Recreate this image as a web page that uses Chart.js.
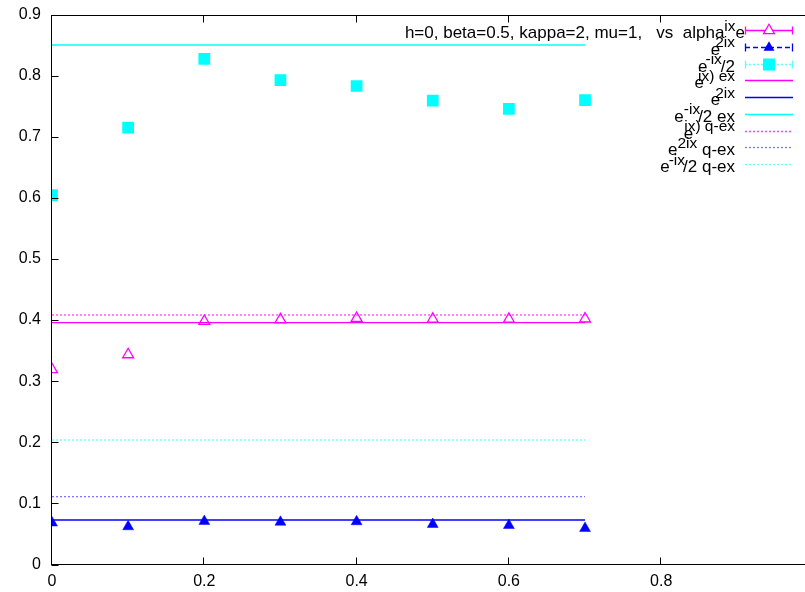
<!DOCTYPE html>
<html>
<head>
<meta charset="utf-8">
<script src="https://cdn.jsdelivr.net/npm/chart.js@4/dist/chart.umd.min.js"></script>
<style>
  html, body { margin: 0; padding: 0; background: #fff; overflow: hidden; }
  canvas { display: block; }
</style>
</head>
<body>
<canvas id="c" width="814" height="592"></canvas>
<script>
// ---- data ----
const alphaValues     = [0, 0.1, 0.2, 0.3, 0.4, 0.5, 0.6, 0.7];
const simExpIx        = [0.319, 0.3435, 0.398, 0.4007, 0.4029, 0.4016, 0.4016, 0.402];
const simExp2Ix       = [0.0682, 0.062, 0.0707, 0.0694, 0.0702, 0.0658, 0.064, 0.0592];
const simExpMinusIx2  = [0.6046, 0.7148, 0.8272, 0.7928, 0.783, 0.759, 0.7454, 0.760];
const refRange        = [0, 0.7];
const exactLevels     = [0.3957, 0.0728, 0.8501];   // e^{ix}, e^{2ix}, e^{-ix}/2  (ex)
const qExactLevels    = [0.4083, 0.111, 0.2037];    // e^{ix}, e^{2ix}, e^{-ix}/2  (q-ex)
const xTickStep = 0.2, xMin = 0, xMax = 1;
const yTickStep = 0.1, yMin = 0, yMax = 0.9;

// ---- styling ----
const MAGENTA = '#ff00ff', BLUE = '#0000ff', CYAN = '#00ffff';
const MAGENTA_DOT = '#ff40ff', BLUE_DOT = '#7878ff', CYAN_DOT = '#60ffff';
const FONT_FAMILY = '"Liberation Sans", Arial, Helvetica, sans-serif';
const BASE_FONT = '17px ' + FONT_FAMILY;
const SUP_FONT = '15.5px ' + FONT_FAMILY;

const pts = ys => alphaValues.map((x, i) => ({ x, y: ys[i] }));
const flat = v => refRange.map(x => ({ x, y: v }));

const lineSet = (v, color, dash) => ({
  data: flat(v), showLine: true, borderColor: color, borderWidth: 1.3,
  borderDash: dash || [], pointRadius: 0, order: 5
});

const datasets = [
  { data: pts(simExpIx), showLine: false, pointStyle: 'triangle', pointRadius: 6.3,
    borderColor: MAGENTA, backgroundColor: 'rgba(0,0,0,0)', pointBorderWidth: 1.3, order: 1 },
  { data: pts(simExp2Ix), showLine: false, pointStyle: 'triangle', pointRadius: 6.3,
    borderColor: BLUE, backgroundColor: BLUE, pointBorderWidth: 0.5, order: 2 },
  { data: pts(simExpMinusIx2), showLine: false, pointStyle: 'rect', pointRadius: 8.3,
    borderColor: CYAN, backgroundColor: CYAN, pointBorderWidth: 0, order: 3 },
  lineSet(exactLevels[0], MAGENTA),
  lineSet(exactLevels[1], BLUE),
  lineSet(exactLevels[2], CYAN),
  lineSet(qExactLevels[0], MAGENTA_DOT, [2, 2]),
  lineSet(qExactLevels[1], BLUE_DOT, [2, 2]),
  lineSet(qExactLevels[2], CYAN_DOT, [2, 2])
];

// key rows: text pieces (sup = superscript, tuck = overlap with previous piece)
const keyRows = [
  { right: 745, pieces: [{ t: 'h=0, beta=0.5, kappa=2, mu=1,   vs  alpha' }, { t: 'ix', sup: true }, { t: 'e' }],
    sample: { color: MAGENTA, dash: [], caps: true, marker: 'openTri' } },
  { right: 735, pieces: [{ t: 'e' }, { t: '2ix', sup: true, tuck: 5 }],
    sample: { color: BLUE, dash: [5, 3], caps: true, marker: 'tri' } },
  { right: 735, pieces: [{ t: 'e' }, { t: '-ix', sup: true, tuck: 2 }, { t: '/2', tuck: 1 }],
    sample: { color: CYAN_DOT, dash: [2, 2], caps: true, marker: 'square' } },
  { right: 735, pieces: [{ t: 'e' }, { t: 'ix) ex', sup: true, tuck: 6 }],
    sample: { color: MAGENTA, dash: [] } },
  { right: 735, pieces: [{ t: 'e' }, { t: '2ix', sup: true, tuck: 5 }],
    sample: { color: BLUE, dash: [] } },
  { right: 735, pieces: [{ t: 'e' }, { t: '-ix', sup: true }, { t: '/2 ex', tuck: 2 }],
    sample: { color: CYAN, dash: [] } },
  { right: 735, pieces: [{ t: 'e' }, { t: 'ix) q-ex', sup: true, tuck: 9 }],
    sample: { color: MAGENTA_DOT, dash: [2, 2] } },
  { right: 735, pieces: [{ t: 'e' }, { t: '2ix', sup: true }, { t: ' q-ex' }],
    sample: { color: BLUE_DOT, dash: [2, 2] } },
  { right: 735, pieces: [{ t: 'e' }, { t: '-ix', sup: true, tuck: 1 }, { t: '/2 q-ex', tuck: 2 }],
    sample: { color: CYAN_DOT, dash: [2, 2] } }
];

function drawKey(ctx) {
  const y0 = 30, dy = 16.78, sx0 = 745, sx1 = 793;
  ctx.save();
  ctx.textAlign = 'left';
  ctx.textBaseline = 'alphabetic';
  ctx.fillStyle = '#000';
  keyRows.forEach((row, r) => {
    const yc = y0 + r * dy;
    // text, laid out from right to left
    let x = row.right;
    const placed = [];
    for (let i = row.pieces.length - 1; i >= 0; i--) {
      const p = row.pieces[i];
      ctx.font = p.sup ? SUP_FONT : BASE_FONT;
      const w = ctx.measureText(p.t).width;
      x -= w;
      placed.push({ p, x });
      x += (p.tuck || 0);
    }
    placed.forEach(({ p, x }) => {
      ctx.font = p.sup ? SUP_FONT : BASE_FONT;
      ctx.fillText(p.t, x, p.sup ? yc + 0.5 : yc + 8);
    });
    // sample line
    const s = row.sample;
    const ly = Math.round(yc) + 0.5;
    ctx.strokeStyle = s.color;
    ctx.lineWidth = 1.3;
    ctx.setLineDash(s.dash);
    ctx.beginPath(); ctx.moveTo(sx0, ly); ctx.lineTo(sx1, ly); ctx.stroke();
    ctx.setLineDash([]);
    if (s.caps) {
      ctx.beginPath();
      ctx.moveTo(sx0 + 0.5, ly - 4); ctx.lineTo(sx0 + 0.5, ly + 4);
      ctx.moveTo(sx1 - 0.5, ly - 4); ctx.lineTo(sx1 - 0.5, ly + 4);
      ctx.stroke();
    }
    const mx = (sx0 + sx1) / 2;
    if (s.marker === 'openTri' || s.marker === 'tri') {
      const r6 = 6.3;
      ctx.beginPath();
      ctx.moveTo(mx, ly - r6);
      ctx.lineTo(mx + r6 * 0.866, ly + r6 / 2);
      ctx.lineTo(mx - r6 * 0.866, ly + r6 / 2);
      ctx.closePath();
      if (s.marker === 'tri') {
        ctx.fillStyle = BLUE; ctx.fill();
      } else {
        ctx.fillStyle = '#fff'; ctx.fill();
        ctx.strokeStyle = MAGENTA; ctx.lineWidth = 1.3; ctx.stroke();
      }
      ctx.fillStyle = '#000';
    } else if (s.marker === 'square') {
      ctx.fillStyle = CYAN;
      ctx.fillRect(mx - 6, ly - 6, 12, 12);
      ctx.fillStyle = '#000';
    }
  });
  ctx.restore();
}

// frame with inward tick marks, plus the key
const framePlugin = {
  id: 'frame',
  afterDraw(chart) {
    const { ctx, chartArea: a, scales: { x, y } } = chart;
    const L = Math.round(a.left) - 0.5, R = Math.round(a.right) - 0.5;
    const T = Math.round(a.top) + 0.5, B = Math.round(a.bottom) - 0.5;
    ctx.save();
    ctx.strokeStyle = '#000';
    ctx.lineWidth = 1;
    ctx.strokeRect(L, T, R - L, B - T);
    ctx.beginPath();
    x.ticks.forEach(t => {
      const px = Math.round(x.getPixelForValue(t.value)) - 0.5;
      ctx.moveTo(px, B); ctx.lineTo(px, B - 7);
      ctx.moveTo(px, T); ctx.lineTo(px, T + 7);
    });
    y.ticks.forEach(t => {
      const py = Math.round(y.getPixelForValue(t.value)) + 0.5;
      ctx.moveTo(L, py); ctx.lineTo(L + 7, py);
      ctx.moveTo(R, py); ctx.lineTo(R - 7, py);
    });
    ctx.stroke();
    ctx.restore();
    drawKey(ctx);
  }
};

const fmt = v => String(+Number(v).toFixed(1));

// fixed axis box sizes; label overhang is absorbed by the fixed margins
const fixBox = (w, h) => s => {
  if (w !== null) s.width = w;
  if (h !== null) s.height = h;
  s.paddingTop = s.paddingBottom = s.paddingLeft = s.paddingRight = 0;
};

new Chart(document.getElementById('c'), {
  type: 'scatter',
  data: { datasets },
  options: {
    responsive: false,
    animation: false,
    devicePixelRatio: 1,
    events: [],
    layout: { autoPadding: false, padding: { top: 14.5, right: 0.5, left: 0, bottom: 0 } },
    plugins: { legend: { display: false }, tooltip: { enabled: false } },
    scales: {
      x: {
        type: 'linear', min: xMin, max: xMax,
        grid: { display: false, drawTicks: false },
        border: { display: false },
        ticks: {
          stepSize: xTickStep, maxRotation: 0, autoSkip: false, padding: 7,
          color: '#000', font: { family: FONT_FAMILY, size: 16 },
          callback: v => (v >= xMax ? '' : fmt(v))
        },
        afterFit: fixBox(null, 27.5)
      },
      y: {
        type: 'linear', min: yMin, max: yMax,
        grid: { display: false, drawTicks: false },
        border: { display: false },
        ticks: {
          stepSize: yTickStep, padding: 11,
          color: '#000', font: { family: FONT_FAMILY, size: 16 },
          callback: v => fmt(v)
        },
        afterFit: fixBox(52, null)
      }
    }
  },
  plugins: [framePlugin]
});
</script>
</body>
</html>
